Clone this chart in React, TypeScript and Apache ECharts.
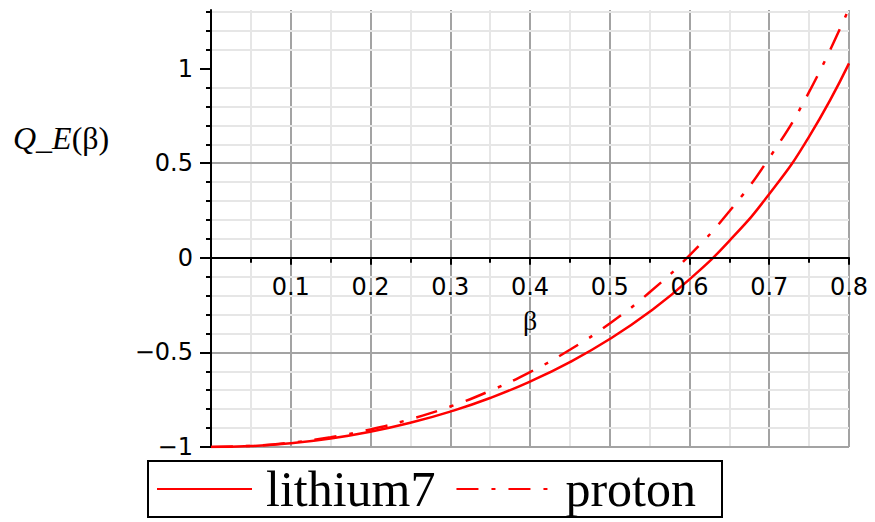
import React, { useEffect, useRef } from 'react';
import * as echarts from 'echarts';

// beta values (x) and the two curves
const betaValues = [0, 0.05, 0.1, 0.15, 0.2, 0.25, 0.3, 0.35, 0.4, 0.45, 0.5, 0.55, 0.6, 0.65, 0.7, 0.75, 0.8];
const lithium7Values = [-1, -0.995, -0.98, -0.955, -0.919, -0.872, -0.813, -0.741, -0.654, -0.551, -0.429, -0.285, -0.114, 0.09, 0.337, 0.641, 1.028];
const protonValues = [-1, -0.994, -0.977, -0.948, -0.907, -0.853, -0.786, -0.703, -0.604, -0.486, -0.347, -0.182, 0.013, 0.246, 0.528, 0.877, 1.319];
const seriesNames = ['lithium7', 'proton'];
const yTickValues = [-1, -0.5, 0, 0.5, 1];
const xAxisTitle = 'β';
const yAxisTitleItalic = 'Q_E';
const yAxisTitleUpright = '(β)';

const X_MIN = 0;
const X_MAX = 0.8;
const Y_MIN = -1;
const Y_MAX = 1.31;
const GRID_TOP = 10;
const GRID_BOTTOM = 75;
const CHART_H = 522;

const fmtY = (v: number) => {
  const r = Math.round(v * 10) / 10;
  if (r > 1.2) return '';
  return r < 0 ? '\u2212' + String(Math.abs(r)) : String(r);
};

export default function App() {
  const ref = useRef<HTMLDivElement>(null);
  useEffect(() => {
    const chart = echarts.init(ref.current as HTMLDivElement, null, { renderer: 'svg' });
    const black = '#000000';
    const major = '#a3a3a3';
    const minor = '#e6e6e6';
    // x axis sits on y = 0: offset it up from the grid's bottom edge
    const plotH = CHART_H - GRID_TOP - GRID_BOTTOM;
    const zeroOffset = -(plotH * (0 - Y_MIN)) / (Y_MAX - Y_MIN);
    chart.setOption({
      animation: false,
      backgroundColor: '#ffffff',
      grid: { left: 211, right: 26, top: GRID_TOP, bottom: GRID_BOTTOM, containLabel: false, outerBoundsMode: 'none' },
      xAxis: [
        {
          // vertical grid lines only (drawn beneath the horizontal ones)
          type: 'value',
          min: X_MIN,
          max: X_MAX,
          interval: 0.1,
          z: 0,
          axisLine: { show: false, onZero: false },
          axisTick: { show: false },
          axisLabel: { show: false },
          minorTick: { show: false, splitNumber: 2 },
          splitLine: { show: true, lineStyle: { color: major, width: 2 } },
          minorSplitLine: { show: true, lineStyle: { color: minor, width: 2 } },
        },
        {
          // axis line on y = 0 with its ticks, labels and name
          type: 'value',
          min: X_MIN,
          max: X_MAX,
          interval: 0.1,
          position: 'bottom',
          offset: zeroOffset,
          z: 3,
          name: xAxisTitle,
          nameLocation: 'middle',
          nameGap: 49,
          nameMoveOverlap: false,
          nameTextStyle: { fontFamily: 'Liberation Serif', fontSize: 28, color: black },
          axisLine: { show: true, onZero: false, lineStyle: { color: black, width: 2 } },
          axisTick: { show: true, length: 7, lineStyle: { color: black, width: 2 } },
          minorTick: { show: true, splitNumber: 2, length: 5, lineStyle: { color: black, width: 2 } },
          axisLabel: {
            showMinLabel: false,
            margin: 17,
            fontFamily: 'DejaVu Sans',
            fontSize: 24,
            color: black,
            formatter: (v: number) => (Math.abs(v) < 1e-9 ? '' : String(Math.round(v * 10) / 10)),
          },
          splitLine: { show: false },
          minorSplitLine: { show: false },
        },
      ],
      yAxis: {
        type: 'value',
        min: Y_MIN,
        max: Y_MAX,
        interval: 0.5,
        z: 1,
        axisLine: { show: true, onZero: false, lineStyle: { color: black, width: 2 } },
        axisTick: { show: true, length: 11, customValues: yTickValues, lineStyle: { color: black, width: 2 } },
        minorTick: { show: true, splitNumber: 5, length: 5, lineStyle: { color: black, width: 2 } },
        axisLabel: {
          margin: 18,
          fontFamily: 'DejaVu Sans',
          fontSize: 24,
          color: black,
          formatter: fmtY,
        },
        splitLine: { show: true, showMaxLine: false, lineStyle: { color: major, width: 2 } },
        minorSplitLine: { show: true, lineStyle: { color: minor, width: 2 } },
      },
      legend: {
        data: seriesNames,
        left: 148,
        top: 461,
        orient: 'horizontal',
        itemWidth: 95,
        itemHeight: 14,
        itemGap: 20,
        padding: [3, 26, 3, 8],
        borderColor: black,
        borderWidth: 2,
        itemStyle: { color: 'rgba(0,0,0,0)', opacity: 0, borderWidth: 0 },
        textStyle: { fontFamily: 'Liberation Serif', fontSize: 50, color: black, padding: [0, 0, 0, 9] },
      },
      graphic: [
        {
          type: 'text',
          x: 13,
          y: 138,
          style: {
            text: '{it|' + yAxisTitleItalic + '}{rm|' + yAxisTitleUpright + '}',
            verticalAlign: 'middle',
            rich: {
              it: { fontFamily: 'Liberation Serif', fontStyle: 'italic', fontSize: 32, fill: black },
              rm: { fontFamily: 'Liberation Serif', fontSize: 32, fill: black },
            },
          },
        },
      ],
      series: [
        {
          name: seriesNames[0],
          type: 'line',
          xAxisIndex: 0,
          data: betaValues.map((b, i) => [b, lithium7Values[i]]),
          symbol: 'none',
          smooth: true,
          z: 2,
          lineStyle: { color: '#ff0000', width: 2.5 },
          itemStyle: { color: '#ff0000' },
        },
        {
          name: seriesNames[1],
          type: 'line',
          xAxisIndex: 0,
          data: betaValues.map((b, i) => [b, protonValues[i]]),
          symbol: 'none',
          smooth: true,
          z: 2,
          lineStyle: { color: '#ff0000', width: 2.5, type: [22, 13, 4, 13] },
          itemStyle: { color: '#ff0000' },
        },
      ],
    });
    return () => chart.dispose();
  }, []);
  return (
    <div
      ref={ref}
      style={{ position: 'absolute', left: 0, top: 0, width: 875, height: 522, background: '#fff' }}
    />
  );
}
